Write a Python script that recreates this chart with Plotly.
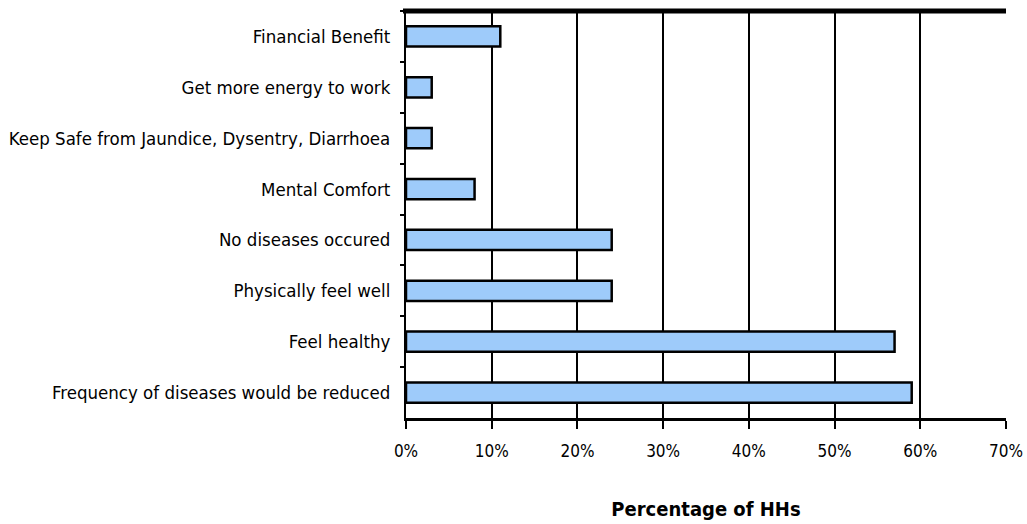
import plotly.graph_objects as go

categories = [
    "Financial Benefit",
    "Get more energy to work",
    "Keep Safe from Jaundice, Dysentry, Diarrhoea",
    "Mental Comfort",
    "No diseases occured",
    "Physically feel well",
    "Feel healthy",
    "Frequency of diseases would be reduced",
]
values = [11, 3, 3, 8, 24, 24, 57, 59]
tick_vals = [0, 10, 20, 30, 40, 50, 60, 70]
tick_text = ["0%", "10%", "20%", "30%", "40%", "50%", "60%", "70%"]

FONT = "Liberation Sans Narrow, Arial Narrow, DejaVu Sans Condensed, sans-serif"

fig = go.Figure()
fig.add_trace(go.Bar(
    x=values,
    y=categories,
    orientation="h",
    width=0.4,
    marker=dict(color="#9ECBFA", line=dict(color="black", width=2.5)),
    hoverinfo="x+y",
))

fig.update_layout(
    width=1027,
    height=524,
    margin=dict(l=406, r=21, t=11, b=106),
    paper_bgcolor="white",
    plot_bgcolor="white",
    showlegend=False,
    font=dict(family=FONT, size=18, color="black"),
    xaxis=dict(
        range=[0, 70],
        tickvals=tick_vals,
        ticktext=tick_text,
        automargin=False,
        showgrid=True,
        gridcolor="black",
        gridwidth=2,
        showline=True,
        linecolor="black",
        linewidth=3,
        ticks="outside",
        ticklen=8,
        tickwidth=2,
        tickcolor="black",
        ticklabelstandoff=8,
        tickfont=dict(family=FONT, size=17),
        zeroline=False,
        title=dict(text="<b>Percentage of HHs</b>",
                   font=dict(family=FONT, size=20),
                   standoff=42),
    ),
    yaxis=dict(
        autorange="reversed",
        automargin=False,
        showline=True,
        linecolor="black",
        linewidth=2,
        ticks="outside",
        tickson="boundaries",
        ticklen=4,
        tickwidth=2,
        tickcolor="black",
        showgrid=False,
        ticklabelstandoff=10,
        tickfont=dict(family=FONT, size=18.5),
    ),
    shapes=[
        dict(type="line", xref="paper", yref="paper", x0=-0.005, x1=1, y0=1, y1=1,
             line=dict(color="black", width=5)),
    ],
)

fig.write_html("out.html")
